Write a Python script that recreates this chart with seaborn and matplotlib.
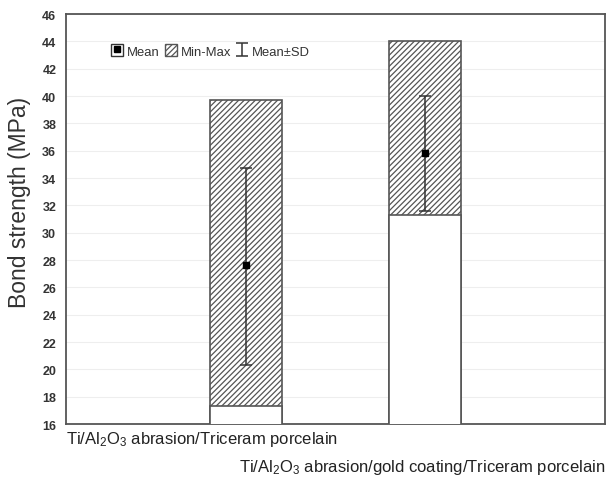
import numpy as np
import pandas as pd
import matplotlib
matplotlib.use("Agg")
import matplotlib.pyplot as plt
import seaborn as sns
from matplotlib.patches import Rectangle, Patch
from matplotlib.lines import Line2D
from matplotlib.legend_handler import HandlerTuple

# values
groups = ["Ti/Al$_2$O$_3$ abrasion/Triceram porcelain",
          "Ti/Al$_2$O$_3$ abrasion/gold coating/Triceram porcelain"]
mins = [17.3, 31.3]
maxs = [39.7, 44.0]
means = [27.6, 35.8]
sd_lo = [20.3, 31.6]
sd_hi = [34.7, 40.0]
yticks = list(range(16, 47, 2))

df = pd.DataFrame({"group": groups, "min": mins, "max": maxs, "mean": means,
                   "lo": sd_lo, "hi": sd_hi})

sns.set_style("white")
plt.rcParams["font.family"] = ["Liberation Sans", "DejaVu Sans"]
plt.rcParams["mathtext.default"] = "regular"
plt.rcParams["hatch.color"] = "#555555"
plt.rcParams["hatch.linewidth"] = 0.9

fig = plt.figure(figsize=(6.07, 4.81), dpi=100)
ax = fig.add_axes([0.1087, 0.1164, 0.888, 0.8524])

edge = "#555555"
# hatched min-max box: draw bar up to max, then white bar up to min over it
sns.barplot(data=df, x="group", y="max", color="white", edgecolor=edge,
            linewidth=1.2, width=0.4, hatch="//////", ax=ax, zorder=2)
sns.barplot(data=df, x="group", y="min", color="white", edgecolor=edge,
            linewidth=1.2, width=0.4, ax=ax, zorder=3)
for p in ax.patches:
    p.set_facecolor("white")

xs = np.arange(len(groups))
err = [np.array(means) - np.array(sd_lo), np.array(sd_hi) - np.array(means)]
eb = ax.errorbar(xs, means, yerr=err, fmt="none", ecolor="#333333",
                 elinewidth=1.1, capsize=4, capthick=1.1, zorder=5)
mk, = ax.plot(xs, means, "s", color="black", markersize=4, zorder=6)

ax.set_xlim(-1, 2)
ax.set_ylim(16, 46)
ax.set_yticks(yticks)
ax.set_xticks(xs)
ax.set_xticklabels([])
ax.set_xlabel("")
ax.tick_params(axis="x", direction="in", length=2, color=edge)
ax.tick_params(axis="y", direction="in", length=3, color=edge, pad=7)
for lab in ax.get_yticklabels():
    lab.set_family(["Liberation Sans Narrow", "Liberation Sans"])
    lab.set_fontweight("bold")
    lab.set_fontsize(9)
    lab.set_color("#333333")
ax.yaxis.grid(True, color="#eeeeee", linewidth=0.8)
ax.set_axisbelow(True)
for s in ax.spines.values():
    s.set_color(edge)
    s.set_linewidth(1.3)

ax.set_ylabel("Bond strength (MPa)", fontsize=16.5, color="#333333")
ax.yaxis.set_label_coords(-0.065, 0.544)

ax.text(0.0, -0.012, groups[0], transform=ax.transAxes, ha="left", va="top",
        fontsize=12, color="#222222")
ax.text(1.001, -0.08, groups[1], transform=ax.transAxes, ha="right", va="top",
        fontsize=12, color="#222222")

h_mean = (Rectangle((0, 0), 1, 1, facecolor="white", edgecolor="#333333", lw=1),
          Line2D([], [], marker="s", color="black", markersize=4, linestyle="none"))
h_mm = Patch(facecolor="white", edgecolor=edge, hatch="//////", lw=1)
leg = ax.legend([h_mean, h_mm, eb], ["Mean", "Min-Max", "Mean±SD"],
                handler_map={tuple: HandlerTuple(ndivide=1)},
                loc="upper left", bbox_to_anchor=(0.062, 0.955), ncol=3,
                frameon=False, fontsize=9.4, handlelength=0.9, handleheight=1.0,
                handletextpad=0.3, columnspacing=0.4)
for t in leg.get_texts():
    t.set_color("#333333")

fig.savefig("out.png", dpi=100)
